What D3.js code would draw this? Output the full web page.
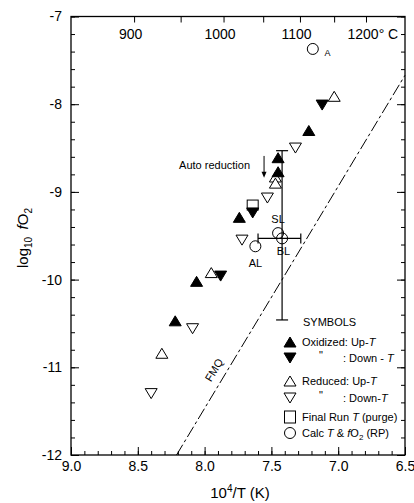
<!DOCTYPE html>
<html lang="en">

<head>
  <meta charset="UTF-8" />
  <title>log fO2 vs 10^4/T</title>
  <script src="https://d3js.org/d3.v7.min.js"></script>
  <style>
    body {
      margin: 0;
      background-color: white;
    }

    svg {
      font-family: 'Liberation Sans', Arial, sans-serif;
    }

    .tick text {
      font-size: 14px;
      fill: black;
    }

    .tick line {
      stroke: black;
    }

    .legend text {
      font-size: 11px;
    }
  </style>
</head>

<body>
  <script>
    // values: [10^4/T, log10 fO2]
    const oxidizedUp = [[7.45, -8.61], [7.45, -8.77], [7.22, -8.30], [7.74, -9.29], [8.06, -10.02], [8.22, -10.47]];
    const oxidizedDown = [[7.12, -8.01], [7.64, -9.24], [7.88, -9.96]];
    const reducedUp = [[7.03, -7.91], [7.47, -8.83], [7.47, -8.90], [7.95, -9.92], [8.32, -10.84]];
    const reducedDown = [[7.32, -8.50], [7.53, -9.07], [7.72, -9.55], [8.09, -10.56], [8.40, -11.30]];
    const finalRun = [[7.64, -9.15]];
    const calcPoints = [[7.19, -7.37], [7.45, -9.47], [7.42, -9.53], [7.62, -9.62]];
    const calcLabels = [['A', 7.08, -7.42], ['SL', 7.45, -9.31], ['BL', 7.41, -9.67], ['AL', 7.62, -9.81]];

    // error bar on BL
    const errCenter = [7.42, -9.53];
    const errX = [7.60, 7.28];
    const errY = [-10.46, -8.53];

    // FMQ buffer line end points
    const fmq = [[8.21, -12], [6.5, -7.67]];

    const xMajor = [9.0, 8.5, 8.0, 7.5, 7.0, 6.5];
    const yMajor = [-7, -8, -9, -10, -11, -12];
    const tempMajor = [900, 1000, 1100, 1200];
    const tempMinor = [950, 1050, 1150];

    const w = 414;
    const h = 503;
    const pLeft = 71, pRight = 405, pTop = 16.5, pBottom = 455;

    const svg = d3.select('body')
      .append('svg')
      .attr('width', w)
      .attr('height', h);

    const x = d3.scaleLinear().domain([9, 6.5]).range([pLeft, pRight]);
    const y = d3.scaleLinear().domain([-7, -12]).range([pTop, pBottom]);
    // top axis in degrees C, mapped through 10^4/T(K)
    const tx = t => x(1e4 / (t + 273.15));

    const xMinor = d3.range(65, 91).map(v => v / 10);
    const yMin = d3.range(-60, -34).map(v => v / 5);

    // bottom
    svg.append('g')
      .attr('transform', `translate(0,${pBottom})`)
      .call(d3.axisBottom(x).tickValues(xMinor).tickSize(-4).tickFormat(''))
      .call(g => g.select('.domain').remove());
    svg.append('g')
      .attr('transform', `translate(0,${pBottom})`)
      .call(d3.axisBottom(x).tickValues(xMajor).tickSize(-8).tickPadding(6).tickFormat(d3.format('.1f')))
      .call(g => g.select('.domain').remove());

    // left
    svg.append('g')
      .attr('transform', `translate(${pLeft},0)`)
      .call(d3.axisLeft(y).tickValues(yMin).tickSize(-4).tickFormat(''))
      .call(g => g.select('.domain').remove());
    svg.append('g')
      .attr('transform', `translate(${pLeft},0)`)
      .call(d3.axisLeft(y).tickValues(yMajor).tickSize(-8).tickPadding(9).tickFormat(d => d))
      .call(g => g.select('.domain').remove());

    // right
    svg.append('g')
      .attr('transform', `translate(${pRight},0)`)
      .call(d3.axisRight(y).tickValues(yMin).tickSize(-4).tickFormat(''))
      .call(g => g.select('.domain').remove());
    svg.append('g')
      .attr('transform', `translate(${pRight},0)`)
      .call(d3.axisRight(y).tickValues(yMajor).tickSize(-8).tickFormat(''))
      .call(g => g.select('.domain').remove());

    // top, temperature
    const topG = svg.append('g').attr('transform', `translate(0,${pTop})`);
    topG.selectAll('line')
      .data(tempMajor.concat(tempMinor))
      .enter()
      .append('line')
      .attr('x1', d => tx(d))
      .attr('x2', d => tx(d))
      .attr('y1', 0)
      .attr('y2', 6)
      .attr('stroke', 'black');
    topG.selectAll('text')
      .data(tempMajor)
      .enter()
      .append('text')
      .attr('x', d => d === 1200 ? tx(d) - 19 : tx(d) - 4)
      .attr('y', 22)
      .attr('text-anchor', d => d === 1200 ? 'start' : 'middle')
      .attr('font-size', '14px')
      .text(d => d === 1200 ? '1200\u00b0 C' : d);

    // frame
    svg.append('rect')
      .attr('x', pLeft)
      .attr('y', pTop)
      .attr('width', pRight - pLeft)
      .attr('height', pBottom - pTop)
      .attr('fill', 'none')
      .attr('stroke', 'black')
      .attr('stroke-width', 1.3);

    // FMQ
    svg.append('path')
      .attr('d', d3.line().x(d => x(d[0])).y(d => y(d[1]))(fmq))
      .attr('fill', 'none')
      .attr('stroke', 'black')
      .attr('stroke-width', 1)
      .attr('stroke-dasharray', '12,3,3,3');
    const fmqAngle = Math.atan2(y(fmq[1][1]) - y(fmq[0][1]), x(fmq[1][0]) - x(fmq[0][0])) * 180 / Math.PI;
    svg.append('text')
      .attr('transform', `translate(${x(7.93)},${y(-11.03)}) rotate(${fmqAngle})`)
      .attr('text-anchor', 'middle')
      .attr('dy', '0.35em')
      .attr('font-size', '11px')
      .text('FMQ');

    // error bars
    const eb = svg.append('g').attr('stroke', 'black').attr('stroke-width', 1.2);
    eb.append('line')
      .attr('x1', x(errCenter[0])).attr('x2', x(errCenter[0]))
      .attr('y1', y(errY[0])).attr('y2', y(errY[1]));
    errY.forEach(v => {
      eb.append('line')
        .attr('x1', x(errCenter[0]) - 6).attr('x2', x(errCenter[0]) + 6)
        .attr('y1', y(v)).attr('y2', y(v));
    });
    eb.append('line')
      .attr('x1', x(errX[0])).attr('x2', x(errX[1]))
      .attr('y1', y(errCenter[1])).attr('y2', y(errCenter[1]));
    errX.forEach(v => {
      eb.append('line')
        .attr('x1', x(v)).attr('x2', x(v))
        .attr('y1', y(errCenter[1]) - 5).attr('y2', y(errCenter[1]) + 5);
    });

    // markers
    const triUp = 'M0,-5L6,5L-6,5Z';
    const triDown = 'M0,5L6,-5L-6,-5Z';

    function drawTri(sel, data, path, filled) {
      sel.append('g')
        .selectAll('path')
        .data(data)
        .enter()
        .append('path')
        .attr('d', path)
        .attr('transform', d => `translate(${x(d[0])},${y(d[1])})`)
        .attr('fill', filled ? 'black' : 'white')
        .attr('stroke', 'black')
        .attr('stroke-width', 1);
    }

    svg.append('g')
      .selectAll('rect')
      .data(finalRun)
      .enter()
      .append('rect')
      .attr('x', d => x(d[0]) - 5.5)
      .attr('y', d => y(d[1]) - 5)
      .attr('width', 11)
      .attr('height', 10)
      .attr('fill', 'white')
      .attr('stroke', 'black');

    drawTri(svg, reducedUp, triUp, false);
    drawTri(svg, reducedDown, triDown, false);
    drawTri(svg, oxidizedUp, triUp, true);
    drawTri(svg, oxidizedDown, triDown, true);

    svg.append('g')
      .selectAll('circle')
      .data(calcPoints)
      .enter()
      .append('circle')
      .attr('cx', d => x(d[0]))
      .attr('cy', d => y(d[1]))
      .attr('r', 5.5)
      .attr('fill', 'none')
      .attr('stroke', 'black');

    svg.append('g')
      .selectAll('text')
      .data(calcLabels)
      .enter()
      .append('text')
      .attr('x', d => x(d[1]))
      .attr('y', d => y(d[2]))
      .attr('dy', '0.35em')
      .attr('text-anchor', 'middle')
      .attr('font-size', d => d[0] === 'A' ? '9px' : '11px')
      .text(d => d[0]);

    // auto reduction note
    svg.append('text')
      .attr('x', x(7.66))
      .attr('y', y(-8.69))
      .attr('dy', '0.35em')
      .attr('text-anchor', 'end')
      .attr('font-size', '11px')
      .text('Auto reduction');
    svg.append('line')
      .attr('x1', x(7.555)).attr('x2', x(7.555))
      .attr('y1', y(-8.59)).attr('y2', y(-8.80))
      .attr('stroke', 'black');
    svg.append('path')
      .attr('d', `M${x(7.555) - 2.5},${y(-8.77)}L${x(7.555) + 2.5},${y(-8.77)}L${x(7.555)},${y(-8.84)}Z`)
      .attr('fill', 'black');

    // legend
    const legend = svg.append('g').attr('class', 'legend');
    legend.append('text')
      .attr('x', 303)
      .attr('y', 326)
      .attr('font-size', '12.5px')
      .text('SYMBOLS');

    const rows = [
      { y: 342, shape: 'up', fill: true, lab: 'Oxidized: Up-', it: 'T', ditto: false },
      { y: 358, shape: 'down', fill: true, lab: ': Down - ', it: 'T', ditto: true },
      { y: 381, shape: 'up', fill: false, lab: 'Reduced: Up-', it: 'T', ditto: false },
      { y: 398, shape: 'down', fill: false, lab: ': Down-', it: 'T', ditto: true },
      { y: 417, shape: 'square' },
      { y: 433, shape: 'circle' }
    ];
    rows.forEach(r => {
      const g = legend.append('g').attr('transform', `translate(290,${r.y})`);
      if (r.shape === 'up' || r.shape === 'down') {
        g.append('path')
          .attr('d', r.shape === 'up' ? triUp : triDown)
          .attr('fill', r.fill ? 'black' : 'white')
          .attr('stroke', 'black');
        if (r.ditto) {
          g.append('text').attr('x', 31).attr('y', 0).attr('dy', '0.1em').attr('text-anchor', 'middle').text('"');
        }
        const t = g.append('text').attr('x', r.ditto ? 53 : 12).attr('dy', '0.35em');
        t.append('tspan').text(r.lab);
        t.append('tspan').attr('font-style', 'italic').text(r.it);
      } else if (r.shape === 'square') {
        g.append('rect').attr('x', -5.5).attr('y', -6).attr('width', 11).attr('height', 12)
          .attr('fill', 'white').attr('stroke', 'black');
        const t = g.append('text').attr('x', 12).attr('dy', '0.35em');
        t.append('tspan').text('Final Run ');
        t.append('tspan').attr('font-style', 'italic').text('T');
        t.append('tspan').text(' (purge)');
      } else {
        g.append('circle').attr('r', 5.5).attr('fill', 'white').attr('stroke', 'black');
        const t = g.append('text').attr('x', 12).attr('dy', '0.35em');
        t.append('tspan').text('Calc ');
        t.append('tspan').attr('font-style', 'italic').text('T');
        t.append('tspan').text(' & ');
        t.append('tspan').attr('font-style', 'italic').text('f');
        t.append('tspan').text('O');
        t.append('tspan').attr('font-size', '8px').attr('dy', '3').text('2');
        t.append('tspan').attr('dy', '-3').text(' (RP)');
      }
    });

    // axis titles
    const xt = svg.append('text')
      .attr('x', 240)
      .attr('y', 498)
      .attr('text-anchor', 'middle')
      .attr('font-size', '15px');
    xt.append('tspan').text('10');
    xt.append('tspan').attr('font-size', '10px').attr('dy', '-6').text('4');
    xt.append('tspan').attr('dy', '6').text('/T (K)');

    const yt = svg.append('text')
      .attr('transform', 'translate(28,238) rotate(-90)')
      .attr('text-anchor', 'middle')
      .attr('font-size', '15px');
    yt.append('tspan').text('log');
    yt.append('tspan').attr('font-size', '10px').attr('dy', '4').text('10');
    yt.append('tspan').attr('dy', '-4').text('\u2002');
    yt.append('tspan').attr('font-style', 'italic').text('f');
    yt.append('tspan').text('O');
    yt.append('tspan').attr('font-size', '10px').attr('dy', '4').text('2');
  </script>
</body>

</html>
